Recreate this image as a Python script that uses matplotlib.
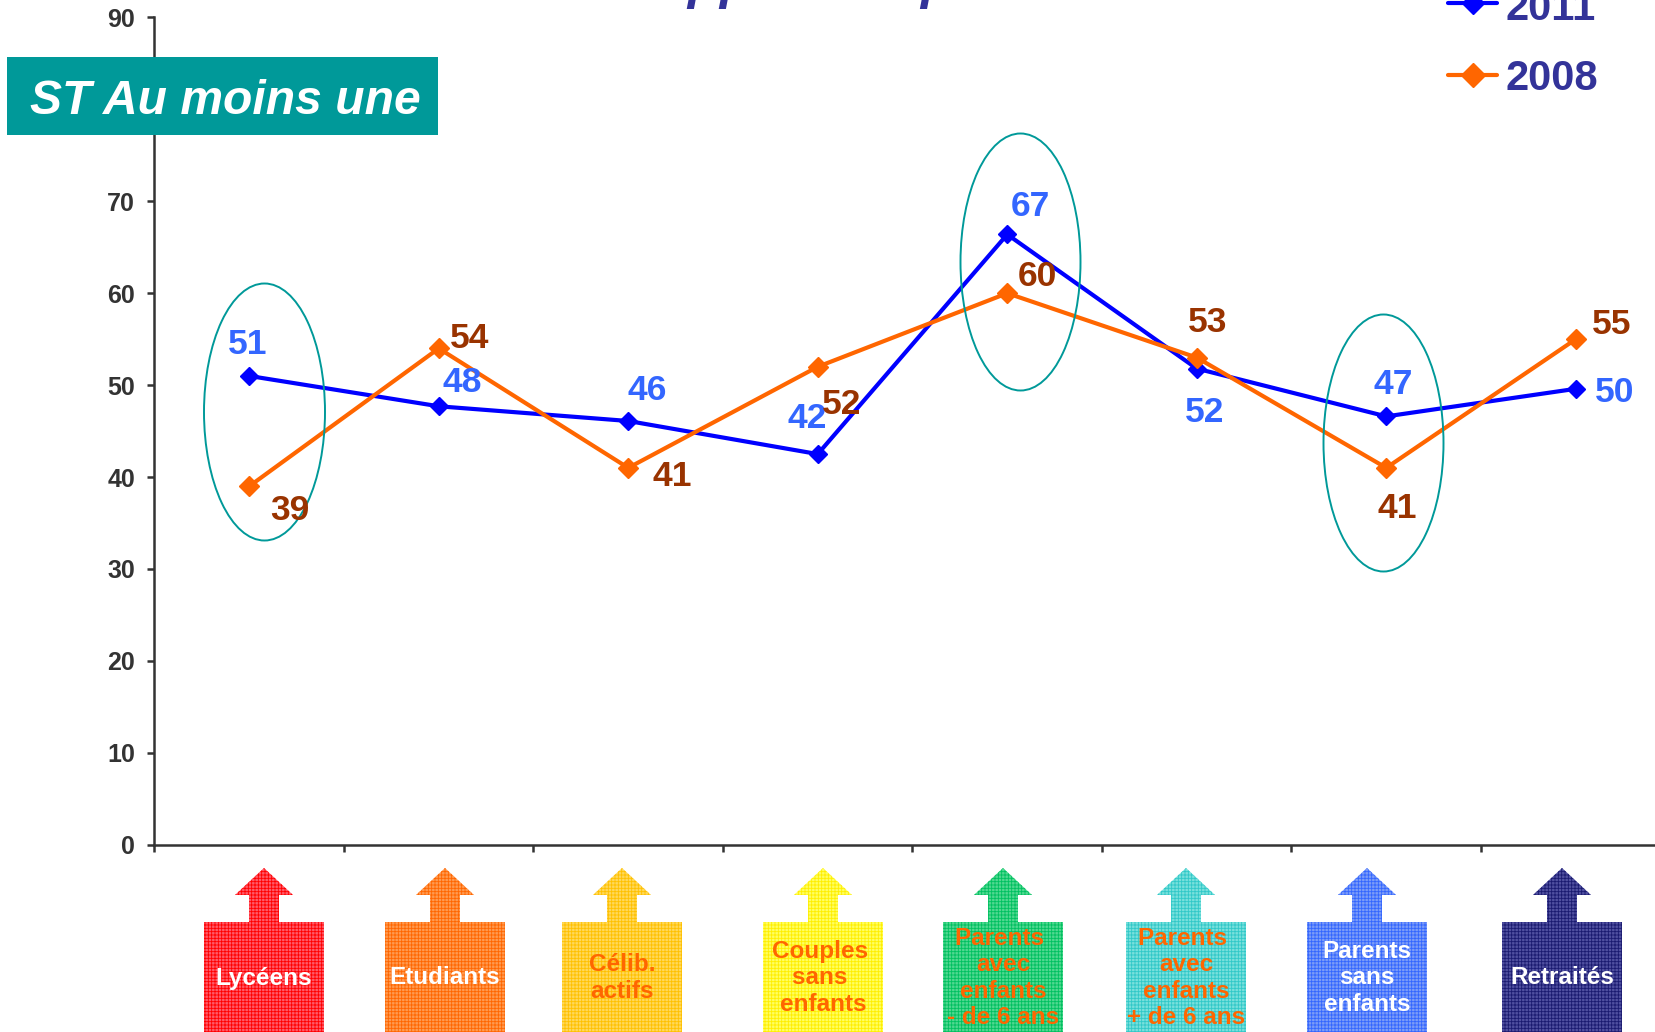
import matplotlib
matplotlib.use("Agg")
import matplotlib.pyplot as plt
from matplotlib.patches import Ellipse, Polygon, Rectangle
import matplotlib as mpl

plt.rcParams['font.family'] = ['Liberation Sans', 'DejaVu Sans']
mpl.rcParams['hatch.linewidth'] = 0.6

W, H = 1656, 1032
categories = ["Lycéens", "Etudiants", "Célib.\nactifs", "Couples \nsans \nenfants",
              "Parents \navec\nenfants\n- de 6 ans", "Parents \navec\nenfants\n+ de 6 ans",
              "Parents\nsans\nenfants", "Retraités"]
values_2011 = [51, 47.7, 46.1, 42.5, 66.4, 51.8, 46.6, 49.6]
values_2008 = [39, 54, 41, 52, 60, 53, 41, 55]
labels_2011 = ["51", "48", "46", "42", "67", "52", "47", "50"]
labels_2008 = ["39", "54", "41", "52", "60", "53", "41", "55"]
yticks = [0, 10, 20, 30, 40, 50, 60, 70, 80, 90]
arrow_colors = ["#FF5A68", "#FF9A50", "#FFD95A", "#FFFF60", "#50D890", "#78E0DC", "#7C9CF8", "#5050A0"]
arrow_hatch = ["#FF0000", "#FF6600", "#FFC000", "#FFEE00", "#00C060", "#30C8C8", "#3366FF", "#1A1A70"]
label_colors = ["white", "white", "#FF6600", "#FF6600", "#FF6600", "#FF6600", "white", "white"]
arrow_cx = [264, 445, 622, 823, 1003, 1186, 1367, 1562]
pos_2011 = [(248, 345), (462, 382), (647, 390), (807, 418), (1030, 207), (1205, 412), (1393, 384), (1615, 393)]
pos_2008 = [(290, 510), (470, 339), (672, 477), (842, 405), (1037, 277), (1208, 322), (1397, 509), (1612, 324)]
ellipses = [(264.5, 412, 121, 257), (1020.5, 262, 120, 257), (1383.5, 443, 120, 257)]

fig = plt.figure(figsize=(W / 100, H / 100), dpi=100)
ax = fig.add_axes([154.5 / W, 1 - 844.7 / H, 1516 / W, (844.7 - 17.5) / H])
ax.set_xlim(0, 8)
ax.set_ylim(0, 90)
x = [i + 0.5 for i in range(8)]
ax.plot(x, values_2011, color="#0000FF", lw=3, marker="D", ms=9, clip_on=False, zorder=3)
ax.plot(x, values_2008, color="#FF6600", lw=3, marker="D", ms=10.5, clip_on=False, zorder=4)
for s in ("top", "right"):
    ax.spines[s].set_visible(False)
for s in ("left", "bottom"):
    ax.spines[s].set_color("#333333")
    ax.spines[s].set_linewidth(1.8)
ax.set_yticks(yticks)
ax.set_xticks(range(9))
ax.set_xticklabels([])
ax.tick_params(axis="both", color="#333333", width=1.8, length=5)
ax.tick_params(axis="y", labelsize=18, labelcolor="#333333", pad=9)
for t in ax.get_yticklabels():
    t.set_fontweight("bold")

# overlay in pixel coordinates
ov = fig.add_axes([0, 0, 1, 1], facecolor="none")
ov.set_xlim(0, W)
ov.set_ylim(H, 0)
ov.axis("off")

ov.add_patch(Rectangle((7, 57), 431, 78, fc="#009999", ec="none"))
ov.text(30, 101, "ST Au moins une", color="white", fontsize=34.6, style="italic",
        fontweight="bold", va="center", ha="left")

for cx, cy, w, h in ellipses:
    ov.add_patch(Ellipse((cx, cy), w, h, fc="none", ec="#009999", lw=1.4))

for (px, py), t in zip(pos_2011, labels_2011):
    ov.text(px, py, t, color="#3366FF", fontsize=25.5, fontweight="bold", ha="center", va="center")
for (px, py), t in zip(pos_2008, labels_2008):
    ov.text(px, py, t, color="#993300", fontsize=25.5, fontweight="bold", ha="center", va="center")

# legend
ov.plot([1448, 1497], [3, 3], color="#0000FF", lw=3, solid_capstyle="round", clip_on=True)
ov.plot([1473], [3], color="#0000FF", marker="D", ms=11, clip_on=True)
ov.plot([1448, 1497], [75, 75], color="#FF6600", lw=3, solid_capstyle="round")
ov.plot([1473], [75], color="#FF6600", marker="D", ms=12, clip_on=True)
ov.text(1506, 9, "2011", color="#333399", fontsize=30, fontweight="bold", va="center")
ov.text(1506, 79, "2008", color="#333399", fontsize=30, fontweight="bold", va="center")

# title, cut off by the top edge of the figure: only descenders show
ov.text(650, -2, "Approche", color="#333399", fontsize=37.7, fontweight="bold",
        style="italic", ha="left", va="baseline", clip_on=True)
ov.text(920, -2, "par cible", color="#333399", fontsize=37.7, fontweight="bold",
        style="italic", ha="left", va="baseline", clip_on=True)

# arrows under the axis
for cx, col, hc, lab, lc in zip(arrow_cx, arrow_colors, arrow_hatch, categories, label_colors):
    hw, sw, bw = 29, 15, 60
    top, neck, boxtop = 868, 895, 922
    pts = [(cx, top), (cx + hw, neck), (cx + sw, neck), (cx + sw, boxtop), (cx + bw, boxtop),
           (cx + bw, H + 2), (cx - bw, H + 2), (cx - bw, boxtop), (cx - sw, boxtop),
           (cx - sw, neck), (cx - hw, neck)]
    ov.add_patch(Polygon(pts, closed=True, fc=col, ec=hc, lw=0, hatch="+++++"))
    ov.text(cx, 978, lab, color=lc, fontsize=17.5, fontweight="bold", ha="center", va="center",
            linespacing=1.17)

fig.savefig("out.png", dpi=100, facecolor="white")
